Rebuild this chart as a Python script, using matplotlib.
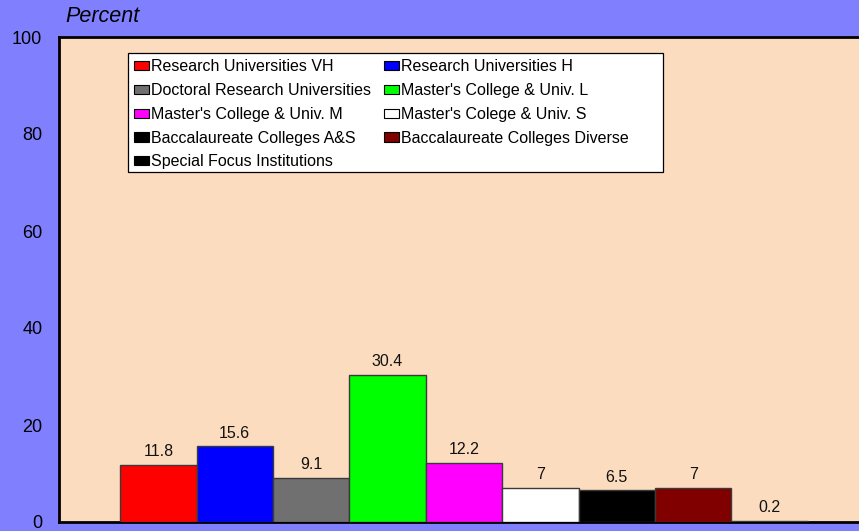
import matplotlib.pyplot as plt
from matplotlib.patches import Patch, Rectangle

plt.rcParams['font.family'] = ['Liberation Sans', 'DejaVu Sans']

categories = [
    "Research Universities VH",
    "Research Universities H",
    "Doctoral Research Universities",
    "Master's College & Univ. L",
    "Master's College & Univ. M",
    "Master's Colege & Univ. S",
    "Baccalaureate Colleges A&S",
    "Baccalaureate Colleges Diverse",
    "Special Focus Institutions",
]
values = [11.8, 15.6, 9.1, 30.4, 12.2, 7, 6.5, 7, 0.2]
value_labels = ["11.8", "15.6", "9.1", "30.4", "12.2", "7", "6.5", "7", "0.2"]
colors = ["#FF0000", "#0000FF", "#707070", "#00FF00", "#FF00FF",
          "#FFFFFF", "#000000", "#800000", "#000000"]
yticks = [0, 20, 40, 60, 80, 100]

W, H = 859, 531
fig = plt.figure(figsize=(W / 100, H / 100), dpi=100)
fig.patch.set_facecolor("#8080FF")
ax = fig.add_axes([59 / W, 9 / H, 800 / W, 485 / H])
ax.set_facecolor("#FCDCBF")

x = list(range(len(values)))
ax.bar(x, values, width=1.0, color=colors, edgecolor="#3a3a3a",
       linewidth=1.0, zorder=3)
for xi, v, s in zip(x, values, value_labels):
    ax.text(xi, v + 1.2, s, ha="center", va="bottom", fontsize=11.5,
            color="#111111", zorder=4)

ax.set_xlim(-1.3, 9.17)
ax.set_ylim(0, 100)
ax.set_xticks([])
ax.set_yticks(yticks)
ax.set_yticklabels([str(t) for t in yticks], fontsize=13)
ax.tick_params(axis="y", length=0, pad=12)

for spine in ["left", "top", "bottom"]:
    ax.spines[spine].set_linewidth(2)
    ax.spines[spine].set_color("black")
ax.spines["right"].set_visible(False)

ax.text(0.008, 1.02, "Percent", transform=ax.transAxes, fontsize=15.5,
        style="italic", ha="left", va="bottom")

# legend box drawn separately so its size matches the original
ax.add_patch(Rectangle((0.08625, 0.7216), 0.66875, 0.2454,
                       transform=ax.transAxes, facecolor="white",
                       edgecolor="black", linewidth=0.9, zorder=5))

handles = [Patch(facecolor=c, edgecolor="black", linewidth=0.8)
           for c in colors]
order = [0, 2, 4, 6, 8, 1, 3, 5, 7]
leg = ax.legend([handles[i] for i in order], [categories[i] for i in order],
                ncol=2, loc="upper left", bbox_to_anchor=(0.0935, 0.954),
                borderaxespad=0, borderpad=0, fontsize=11.5, frameon=False,
                handlelength=0.94, handleheight=0.5, handletextpad=0.15,
                columnspacing=0.8, labelspacing=0.55)
leg.set_zorder(6)

fig.savefig("out.png", dpi=100, facecolor=fig.get_facecolor())
